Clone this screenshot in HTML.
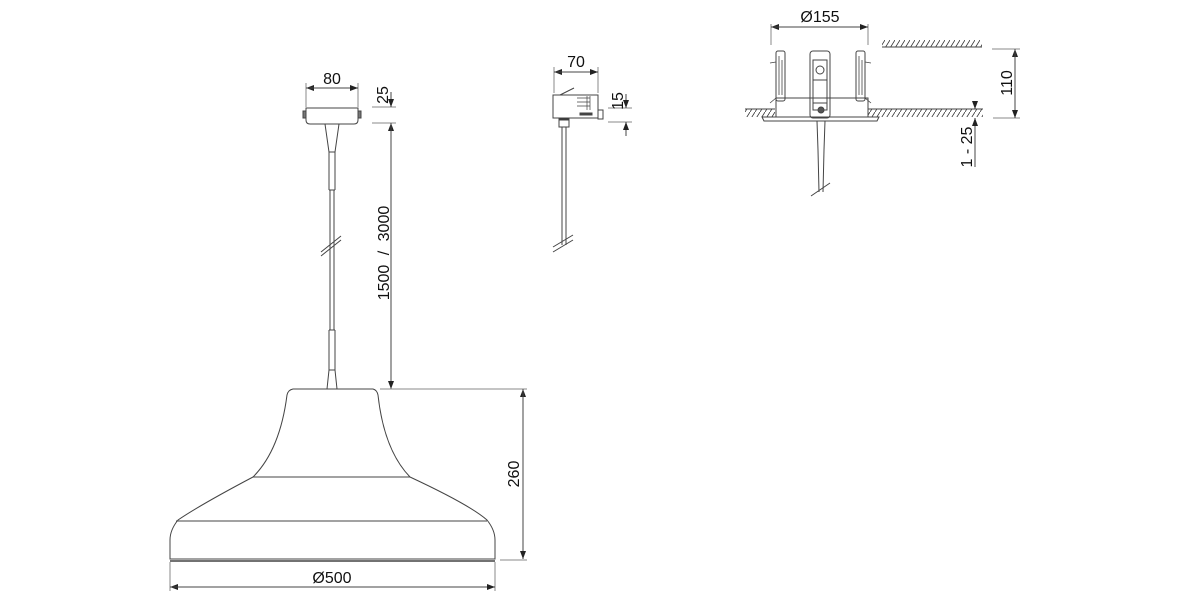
<!DOCTYPE html>
<html><head><meta charset="utf-8"><style>
html,body{margin:0;padding:0;background:#fff;width:1200px;height:600px;overflow:hidden}
svg{display:block}
text{font-family:"Liberation Sans",Arial,sans-serif;fill:#111;font-size:16px}
</style></head><body>
<svg width="1200" height="600" viewBox="0 0 1200 600" xmlns="http://www.w3.org/2000/svg">
<defs>
<marker id="a" markerWidth="8" markerHeight="6" refX="8" refY="3" orient="auto" markerUnits="userSpaceOnUse"><path d="M0,0 L8,3 L0,6 Z" fill="#222"/></marker>
<pattern id="h" width="5" height="8" patternUnits="userSpaceOnUse"><path d="M0,8 L5,0" stroke="#333" stroke-width="0.8"/></pattern>
</defs>
<g fill="none" stroke="#444" stroke-width="1">
<path d="M306,108 L358,108 L358,120 Q358,124 354,124 L310,124 Q306,124 306,120 Z"/>
<rect x="303" y="111" width="3" height="7" fill="#777"/>
<rect x="358" y="111" width="3" height="7" fill="#777"/>
<path d="M325,124 L329,152 L329,190 M339,124 L335,152 L335,190"/>
<line x1="329" y1="152" x2="335" y2="152"/>
<path d="M330,190 L330,330 M334,190 L334,330"/>
<line x1="329" y1="190" x2="335" y2="190"/>
<line x1="321" y1="252" x2="341" y2="236"/><line x1="321" y1="256" x2="341" y2="240"/>
<path d="M329,330 L329,370 L327,389 M335,330 L335,370 L337,389"/>
<line x1="329" y1="330" x2="335" y2="330"/><line x1="329" y1="370" x2="335" y2="370"/>
<path d="M293,389 L373,389 Q377,390 378,395 Q384,450 410,477 Q470,505 487,520 Q495,530 495,540 L495,559 L170,559 L170,540 Q170,530 178,520 Q200,505 253,477 Q280,450 287,395 Q288,390 293,389 Z"/>
<line x1="253" y1="477" x2="410" y2="477"/>
<line x1="176" y1="521" x2="487" y2="521"/>
<line x1="170" y1="561" x2="495" y2="561" stroke-width="1.5"/>
<line x1="306" y1="83" x2="306" y2="107" stroke="#888"/>
<line x1="358" y1="83" x2="358" y2="107" stroke="#888"/>
<line x1="358" y1="88" x2="306" y2="88" marker-end="url(#a)"/>
<line x1="306" y1="88" x2="358" y2="88" marker-end="url(#a)"/>
<line x1="372" y1="107" x2="396" y2="107" stroke="#888"/>
<line x1="372" y1="123" x2="396" y2="123" stroke="#888"/>
<line x1="391" y1="92" x2="391" y2="107" marker-end="url(#a)"/>
<line x1="391" y1="389" x2="391" y2="123" marker-end="url(#a)"/>
<line x1="391" y1="123" x2="391" y2="389" marker-end="url(#a)"/>
<line x1="380" y1="389" x2="527" y2="389" stroke="#888"/>
<line x1="500" y1="560" x2="527" y2="560" stroke="#888"/>
<line x1="523" y1="559" x2="523" y2="389" marker-end="url(#a)"/>
<line x1="523" y1="389" x2="523" y2="559" marker-end="url(#a)"/>
<line x1="170" y1="562" x2="170" y2="591" stroke="#888"/>
<line x1="495" y1="562" x2="495" y2="591" stroke="#888"/>
<line x1="495" y1="587" x2="170" y2="587" marker-end="url(#a)"/>
<line x1="170" y1="587" x2="495" y2="587" marker-end="url(#a)"/>
<rect x="553" y="95" width="45" height="23"/>
<line x1="560" y1="95" x2="574" y2="88"/>
<rect x="598" y="110" width="5" height="9"/>
<path d="M577,98 L590,98 M577,102 L590,102 M577,106 L590,106 M587,96 L587,110 M590,96 L590,110" stroke-width="0.7"/>
<rect x="580" y="113" width="12" height="2" fill="#444"/>
<rect x="559" y="118" width="10" height="9"/>
<rect x="559" y="118" width="10" height="2" fill="#333"/>
<line x1="562" y1="127" x2="562" y2="245"/><line x1="566" y1="127" x2="566" y2="245"/>
<line x1="553" y1="247" x2="573" y2="235"/><line x1="553" y1="252" x2="573" y2="240"/>
<line x1="554" y1="67" x2="554" y2="93" stroke="#888"/>
<line x1="598" y1="67" x2="598" y2="93" stroke="#888"/>
<line x1="598" y1="72" x2="554" y2="72" marker-end="url(#a)"/>
<line x1="554" y1="72" x2="598" y2="72" marker-end="url(#a)"/>
<line x1="608" y1="108" x2="632" y2="108" stroke="#888"/>
<line x1="608" y1="122" x2="632" y2="122" stroke="#888"/>
<line x1="626" y1="94" x2="626" y2="108" marker-end="url(#a)"/>
<line x1="626" y1="136" x2="626" y2="122" marker-end="url(#a)"/>
<rect x="745" y="109" width="30" height="8" fill="url(#h)" stroke="none"/>
<rect x="868" y="109" width="115" height="8" fill="url(#h)" stroke="none"/>
<line x1="745" y1="109" x2="775" y2="109"/><line x1="868" y1="109" x2="983" y2="109"/>
<rect x="882" y="40" width="100" height="7" fill="url(#h)" stroke="none"/>
<line x1="882" y1="47" x2="982" y2="47"/>
<rect x="776" y="98" width="92" height="19"/>
<path d="M762,117 L879,117 L877,121 L764,121 Z"/>
<rect x="776" y="51" width="9" height="50" rx="2"/>
<rect x="856" y="51" width="9" height="50" rx="2"/>
<path d="M779,56 L779,95 M782,60 L782,95 M859,56 L859,95 M862,60 L862,95" stroke-width="0.8"/>
<path d="M770,63 L776,62 M871,63 L865,62 M770,103 L776,98 M871,103 L865,98" stroke-width="0.8"/>
<rect x="810" y="51" width="20" height="67" rx="3"/>
<rect x="813" y="60" width="14" height="50"/>
<circle cx="820" cy="70" r="4"/>
<circle cx="821" cy="110" r="3" fill="#555"/>
<line x1="813" y1="80" x2="827" y2="80"/><line x1="813" y1="103" x2="827" y2="103"/>
<path d="M817,121 L818,150 L819,192 M825,121 L824,150 L823,192"/>
<line x1="811" y1="196" x2="830" y2="183"/>
<line x1="771" y1="24" x2="771" y2="45" stroke="#888"/>
<line x1="868" y1="24" x2="868" y2="45" stroke="#888"/>
<line x1="868" y1="27" x2="771" y2="27" marker-end="url(#a)"/>
<line x1="771" y1="27" x2="868" y2="27" marker-end="url(#a)"/>
<line x1="992" y1="49" x2="1020" y2="49" stroke="#888"/>
<line x1="993" y1="118" x2="1020" y2="118" stroke="#888"/>
<line x1="1015" y1="118" x2="1015" y2="49" marker-end="url(#a)"/>
<line x1="1015" y1="49" x2="1015" y2="118" marker-end="url(#a)"/>
<line x1="975" y1="101" x2="975" y2="109" marker-end="url(#a)"/>
<line x1="975" y1="167" x2="975" y2="118" marker-end="url(#a)"/>
</g>
<text x="332" y="84" text-anchor="middle">80</text>
<text transform="translate(388,95) rotate(-90)" text-anchor="middle">25</text>
<text transform="translate(389,253) rotate(-90)" text-anchor="middle" style="word-spacing:5px">1500 / 3000</text>
<text transform="translate(519,474) rotate(-90)" text-anchor="middle">260</text>
<text x="332" y="583" text-anchor="middle">Ø500</text>
<text x="576" y="67" text-anchor="middle">70</text>
<text transform="translate(623,101) rotate(-90)" text-anchor="middle">15</text>
<text x="820" y="22" text-anchor="middle">Ø155</text>
<text transform="translate(1012,83) rotate(-90)" text-anchor="middle">110</text>
<text transform="translate(972,147) rotate(-90)" text-anchor="middle">1 - 25</text>
</svg>
</body></html>
